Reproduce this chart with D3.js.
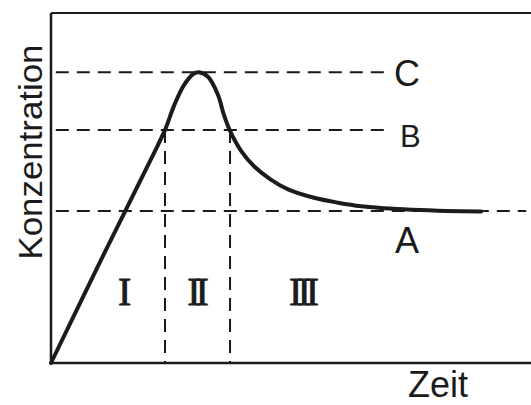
<!DOCTYPE html>
<html>
<head>
<meta charset="utf-8">
<script src="https://cdn.jsdelivr.net/npm/d3@7"></script>
<style>
  html, body { margin: 0; padding: 0; background: #fff; }
  svg { display: block; }
</style>
</head>
<body>
<svg id="chart"></svg>
<script>
// curve: time (0-100), concentration (0-100)
const curveTime = [0, 10.4, 21.25, 23.75, 25.6, 27.7, 29.8, 30.8, 32.7, 34.8, 36.0, 37.3, 39.6, 42.3, 45.8, 49.4, 54.8, 59.8, 64.6, 73.5, 80.6, 89.6];
const curveConc = [0, 29.4, 59.4, 66.6, 73.4, 79.4, 82.7, 83.1, 81.8, 76.6, 71.0, 66.3, 60.6, 56.2, 52.4, 49.6, 47.2, 45.8, 44.8, 43.9, 43.5, 43.3];

// reference levels and phase borders
const levelNames = ["C", "B", "A"];
const levelValues = [83.1, 66.6, 43.4];
const levelEnds = [70.2, 70.4, 99];
const phaseBorders = [23.75, 37.3];
const phaseNames = ["I", "II", "III"];
const phaseCenters = [14.8, 30.1, 52.2];

const width = 531, height = 405;
const svg = d3.select("#chart").attr("width", width).attr("height", height);

const x = d3.scaleLinear().domain([0, 100]).range([51, 531]);
const y = d3.scaleLinear().domain([0, 100]).range([363, 13]);

const ink = "#1b1b1b";

// frame: top line, left axis, bottom axis
svg.append("line")
  .attr("x1", x(0)).attr("x2", width).attr("y1", y(100)).attr("y2", y(100))
  .attr("stroke", ink).attr("stroke-width", 2.2);
svg.append("line")
  .attr("x1", x(0)).attr("x2", x(0)).attr("y1", y(100)).attr("y2", y(0))
  .attr("stroke", ink).attr("stroke-width", 2.5);
svg.append("line")
  .attr("x1", x(0)).attr("x2", width).attr("y1", y(0)).attr("y2", y(0))
  .attr("stroke", ink).attr("stroke-width", 2.5);

// dashed levels
levelValues.forEach((v, i) => {
  svg.append("line")
    .attr("x1", x(1)).attr("x2", x(levelEnds[i]))
    .attr("y1", y(v)).attr("y2", y(v))
    .attr("stroke", ink).attr("stroke-width", 2)
    .attr("stroke-dasharray", "13,8");
});

// dashed phase borders
phaseBorders.forEach(t => {
  svg.append("line")
    .attr("x1", x(t)).attr("x2", x(t))
    .attr("y1", y(levelValues[1])).attr("y2", y(0))
    .attr("stroke", ink).attr("stroke-width", 2)
    .attr("stroke-dasharray", "13,8");
});

// concentration curve
const pts = curveTime.map((t, i) => [t, curveConc[i]]);
svg.append("path")
  .datum(pts)
  .attr("fill", "none")
  .attr("stroke", ink)
  .attr("stroke-width", 4)
  .attr("stroke-linecap", "round")
  .attr("d", d3.line().x(d => x(d[0])).y(d => y(d[1])).curve(d3.curveCatmullRom.alpha(0.5)));

// level labels
const labelFont = "'Liberation Sans', Arial, sans-serif";
const labelX = [394, 400, 395];
const labelBase = [86, 147, 253];
const labelSize = [36, 31, 36];
levelNames.forEach((n, i) => {
  svg.append("text")
    .attr("x", labelX[i]).attr("y", labelBase[i])
    .attr("font-family", labelFont).attr("font-size", labelSize[i])
    .attr("fill", ink)
    .text(n);
});

// phase numerals
phaseNames.forEach((n, i) => {
  svg.append("text")
    .attr("x", x(phaseCenters[i])).attr("y", 305)
    .attr("text-anchor", "middle")
    .attr("font-family", "'Liberation Serif', 'Times New Roman', serif")
    .attr("font-size", 40)
    .attr("letter-spacing", -5)
    .attr("fill", ink)
    .attr("stroke", ink).attr("stroke-width", 0.8)
    .text(n);
});

// axis titles
svg.append("text")
  .attr("transform", "translate(42,152) rotate(-90)")
  .attr("text-anchor", "middle")
  .attr("font-family", labelFont).attr("font-size", 34)
  .attr("textLength", 215).attr("lengthAdjust", "spacingAndGlyphs")
  .attr("fill", ink)
  .text("Konzentration");

svg.append("text")
  .attr("x", 408).attr("y", 397)
  .attr("font-family", labelFont).attr("font-size", 36)
  .attr("fill", ink)
  .text("Zeit");
</script>
</body>
</html>
